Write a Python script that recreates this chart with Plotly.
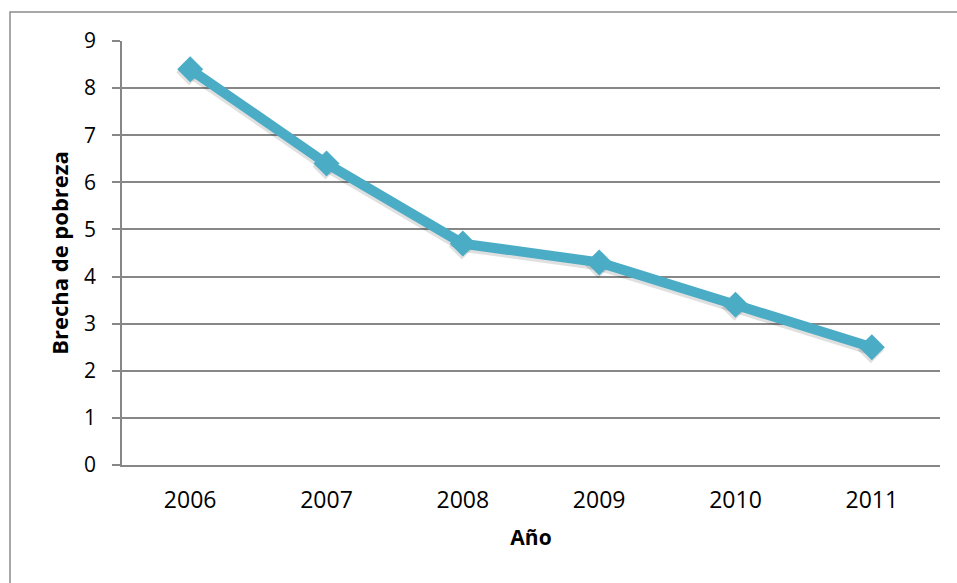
import plotly.graph_objects as go

# Poverty gap by year
years = ["2006", "2007", "2008", "2009", "2010", "2011"]
brecha = [8.4, 6.4, 4.7, 4.3, 3.4, 2.5]
y_ticks = list(range(0, 10))

W, H = 957, 583
L, R, T, B = 122, 17, 41, 118

LINE_COLOR = "#4BACC6"
GRID = "#878787"
FONT = "Open Sans"
LINE_W, MARKER_SIZE = 10, 20

pw, ph = W - L - R, H - T - B
X_RANGE = [-0.5, 5.5]
Y_RANGE = [0, 9]

# soft drop shadow: same series on an overlaid axis pair offset a few pixels
SH_DX, SH_DY = -1.0, 3.0
dx = SH_DX * (X_RANGE[1] - X_RANGE[0]) / pw
dy = SH_DY * (Y_RANGE[1] - Y_RANGE[0]) / ph

fig = go.Figure()

# invisible copy keeps the base axes (ticks, grid, titles) rendered
fig.add_trace(go.Scatter(
    x=years, y=brecha, mode="lines",
    line=dict(color="rgba(0,0,0,0)", width=1),
    showlegend=False, hoverinfo="skip",
))

fig.add_trace(go.Scatter(
    x=years, y=brecha, mode="lines+markers", xaxis="x2", yaxis="y2",
    line=dict(color="rgba(0,0,0,0.12)", width=LINE_W),
    marker=dict(symbol="diamond", size=MARKER_SIZE, color="rgba(0,0,0,0.12)"),
    showlegend=False, hoverinfo="skip",
))

# main series on a third overlay so it is drawn above the shadow
fig.add_trace(go.Scatter(
    x=years, y=brecha, mode="lines+markers", xaxis="x3", yaxis="y3",
    line=dict(color=LINE_COLOR, width=LINE_W),
    marker=dict(symbol="diamond", size=MARKER_SIZE, color=LINE_COLOR),
    showlegend=False, hoverinfo="x+y",
))

# chart-area border (only top and left edges fall inside the page)
def px_x(p):
    return (p - L) / pw
def px_y(p):
    return (H - B - p) / ph

fig.add_shape(type="rect", xref="paper", yref="paper",
              x0=px_x(10), x1=px_x(W + 20), y0=px_y(H + 20), y1=px_y(12),
              line=dict(color="#8c8c8c", width=1.5), fillcolor="rgba(0,0,0,0)",
              layer="below")

fig.update_layout(
    width=W, height=H,
    margin=dict(l=L, r=R, t=T, b=B, pad=0),
    paper_bgcolor="white", plot_bgcolor="white",
    font=dict(family=FONT, size=20, color="black"),
    xaxis=dict(
        type="category", categoryarray=years, range=X_RANGE,
        showgrid=False, showline=True, linecolor=GRID, linewidth=1.5,
        ticks="", tickfont=dict(size=23), ticklabelstandoff=14,
        title=dict(text="<b>Año</b>", font=dict(size=21), standoff=16),
        fixedrange=True,
    ),
    yaxis=dict(
        range=Y_RANGE, tickvals=y_ticks, ticktext=[str(v) for v in y_ticks],
        showgrid=True, gridcolor=GRID, gridwidth=1.5,
        showline=True, linecolor=GRID, linewidth=1.5,
        ticks="outside", ticklen=8, tickcolor=GRID, tickwidth=1.5,
        tickfont=dict(size=21), ticklabelstandoff=12,
        zeroline=False,
        title=dict(text="<b>Brecha de pobreza</b>", font=dict(size=22), standoff=9),
        fixedrange=True,
    ),
    xaxis2=dict(type="category", categoryarray=years, overlaying="x",
                range=[X_RANGE[0] - dx, X_RANGE[1] - dx], visible=False, fixedrange=True),
    yaxis2=dict(overlaying="y", range=[Y_RANGE[0] + dy, Y_RANGE[1] + dy],
                visible=False, fixedrange=True),
    xaxis3=dict(type="category", categoryarray=years, overlaying="x",
                range=X_RANGE, visible=False, fixedrange=True),
    yaxis3=dict(overlaying="y", range=Y_RANGE, visible=False, fixedrange=True),
)

fig.write_html("out.html")
